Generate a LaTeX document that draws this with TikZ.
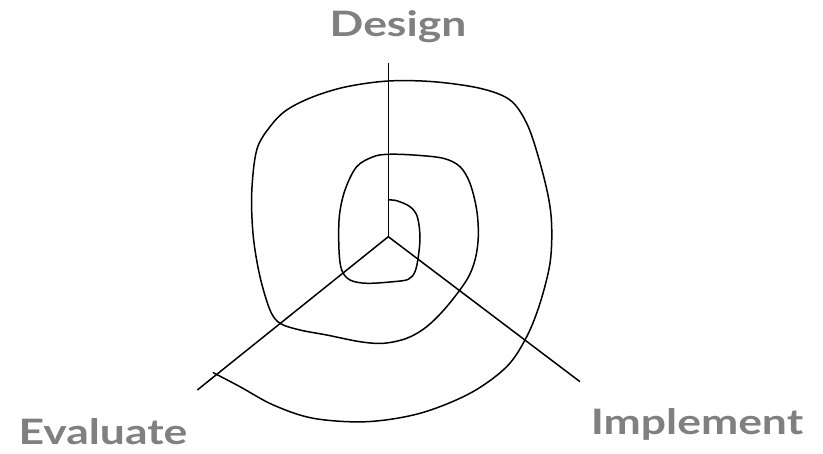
\documentclass[tikz,border=0pt]{standalone}
\usepackage{fontspec}
\usepackage{graphicx}
\usepackage{xcolor}
\usepackage{tikz}
\newfontfamily\phasefont{Lato}
\definecolor{phasegray}{HTML}{808080}
\newcommand\widetext[1]{\scalebox{1.27}[1]{#1}}

\begin{document}
\begin{tikzpicture}[x=1pt,y=-1pt,
  phase/.style={text=phasegray,font=\phasefont\bfseries\fontsize{35}{40}\selectfont,anchor=base,inner sep=0pt},
  axis/.style={line width=1.5pt,black},
  spiral/.style={line width=1.5pt,black,line join=round,line cap=round}]
  \useasboundingbox (0,0) rectangle (823,454);
  \coordinate (hub) at (388.3,236.7);
  \coordinate (designend) at (388.3,62.7);
  \coordinate (evalend) at (197.3,390);
  \coordinate (implend) at (580,381.7);
  \node[phase] (design) at (398,36.7) {\widetext{Design}};
  \node[phase] (evaluate) at (103,445) {\widetext{Evaluate}};
  \node[phase] (implement) at (697,435) {\widetext{Implement}};
  \draw[axis] (hub) -- (designend);
  \draw[axis] (hub) -- (evalend);
  \draw[axis] (hub) -- (implend);
  % the spiral, from the inside out
  \draw[spiral] plot[smooth,tension=0.55] coordinates {
    (388.3,200) (396.7,200.7) (410,206.7) (417.3,216.7) (420,236.7) (418.3,256.7)
    (415,271.7) (408.3,279.3) (393.3,281.7) (366.7,283.3) (350,280) (341.7,270)
    (339,250) (339.3,216.7) (345,190) (356.7,166.7) (373.3,156.7) (388.3,154.3)
    (413.3,155) (443.3,158.3) (460,166.7) (470,183.3) (476.7,210) (478.3,236.7)
    (475,260) (466.7,280) (446.7,306.7) (426.7,326.7) (406.7,338.3) (383.3,343.3)
    (360,341.7) (326.7,335) (300,330) (280,323.3) (270,310) (260,276.7)
    (253.3,236.7) (251.7,193.3) (256.7,150) (270,126.7) (286.7,110) (313.3,96.7)
    (346.7,86.7) (388.3,81) (433.3,81.7) (480,88.3) (510,100) (526.7,123.3)
    (538.3,156.7) (548.3,196.7) (551.7,226.7) (550,263.3) (540,303.3) (526.7,336.7)
    (506.7,366.7) (470,393.3) (420,413.3) (366.7,421.7) (313.3,418.3) (273.3,405)
    (240,386.7) (213.3,372.7)};
\end{tikzpicture}
\end{document}
